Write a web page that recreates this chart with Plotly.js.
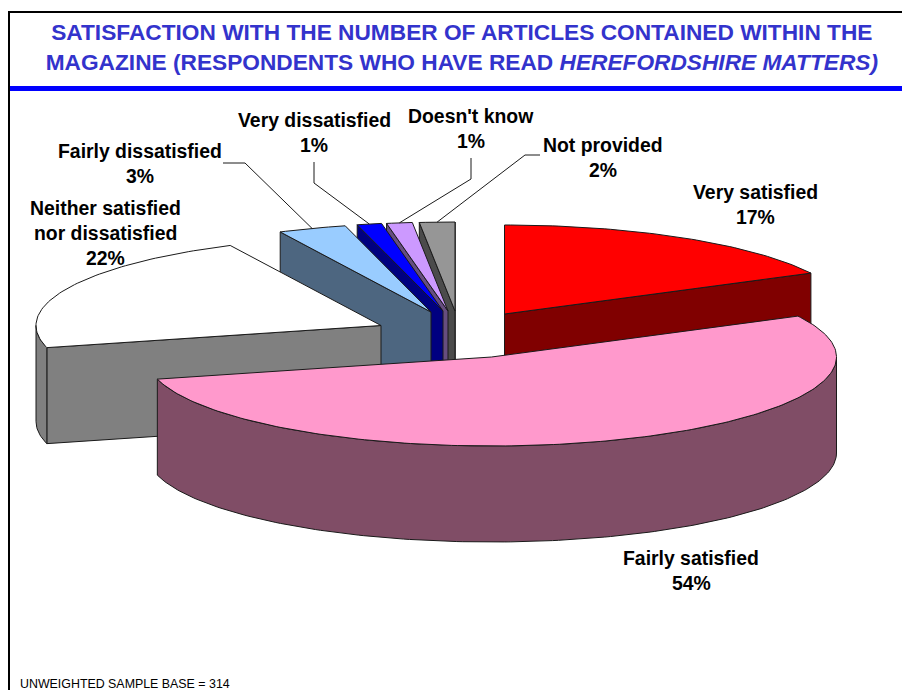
<!DOCTYPE html>
<html>
<head>
<meta charset="utf-8">
<script src="https://cdn.plot.ly/plotly-3.0.1.min.js"></script>
<style>html,body{margin:0;padding:0;background:#fff;overflow:hidden}#chart{width:902px;height:690px}</style>
</head>
<body>
<div id="chart"></div>
<script>
// Data, clockwise from 12 o'clock (unrounded shares)
var categories = ["Very satisfied", "Fairly satisfied", "Neither satisfied nor dissatisfied", "Fairly dissatisfied", "Very dissatisfied", "Doesn't know", "Not provided"];
var shares = [17.4, 53.6, 21.8, 3.2, 1.15, 1.2, 1.65];
var labelLines = [["Very satisfied"], ["Fairly satisfied"], ["Neither satisfied", "nor dissatisfied"], ["Fairly dissatisfied"], ["Very dissatisfied"], ["Doesn't know"], ["Not provided"]];

// Styling and geometry
var topColors = ["#ff0000", "#ff99cc", "#ffffff", "#99ccff", "#0000ff", "#cc99ff", "#969696"];
var sideColors = ["#800000", "#804d66", "#808080", "#4d6680", "#000080", "#664d80", "#4b4b4b"];
var apexX = [504.5, 491.5, 381, 431, 443, 448, 455];
var apexY = [314, 357, 325.5, 312, 311, 311, 311];
var labelX = [755, 691, 105, 140, 314, 471, 603];
var labelY = [192, 558, 208, 151, 120, 116, 145];
var lineGap = 25;
var RX = 345, RY = 89, DEPTH = 96;
var paintOrder = [0, 6, 5, 4, 3, 2, 1];
var leaderElbows = {3: [[223, 163], [245, 163]], 4: [[314, 162], [314, 183]], 5: [[471, 158], [471, 179]], 6: [[540, 155], [525, 155]]};

var rad = Math.PI / 180;
var angles = [], run = 0;
shares.forEach(function (s) { var a = run * 3.6; run += s; angles.push([a, run * 3.6]); });

function rim(i, deg, drop) {
  return [apexX[i] + RX * Math.sin(deg * rad), apexY[i] - RY * Math.cos(deg * rad) + (drop || 0)];
}
function arc(i, from, to, drop) {
  var pts = [], n = Math.max(2, Math.ceil(Math.abs(to - from)));
  for (var k = 0; k <= n; k++) pts.push(rim(i, from + (to - from) * k / n, drop));
  return pts;
}
var traces = [];
function poly(pts, fill, name) {
  var closed = pts.concat([pts[0]]);
  traces.push({
    type: "scatter", mode: "lines", fill: "toself", fillcolor: fill, name: name,
    x: closed.map(function (p) { return p[0]; }),
    y: closed.map(function (p) { return p[1]; }),
    line: {color: "#1a1a1a", width: 1}, hoverinfo: "skip", showlegend: false
  });
}
function radialFace(i, deg) {
  var a = [apexX[i], apexY[i]], r = rim(i, deg);
  poly([a, r, [r[0], r[1] + DEPTH], [a[0], a[1] + DEPTH]], sideColors[i], categories[i] + " side");
}
paintOrder.forEach(function (i) {
  var s = angles[i][0], e = angles[i][1];
  if (Math.sin(e * rad) > 0) radialFace(i, e);
  if (Math.sin(s * rad) < 0) radialFace(i, s);
  var f = Math.max(s, 90), t = Math.min(e, 270);
  if (t > f) poly(arc(i, f, t, 0).concat(arc(i, t, f, DEPTH)), sideColors[i], categories[i] + " rim");
  poly([[apexX[i], apexY[i]]].concat(arc(i, s, e, 0)), topColors[i], categories[i]);
});

// Leader lines run from a label's elbow to the rim of its slice
Object.keys(leaderElbows).forEach(function (k) {
  var i = +k, mid = (angles[i][0] + angles[i][1]) / 2;
  var pts = leaderElbows[k].concat([rim(i, mid)]);
  traces.push({
    type: "scatter", mode: "lines", x: pts.map(function (p) { return p[0]; }), y: pts.map(function (p) { return p[1]; }),
    line: {color: "#1a1a1a", width: 1}, hoverinfo: "skip", showlegend: false
  });
});

var annotations = [];
function text(x, y, str, size, bold, anchor) {
  annotations.push({
    xref: "x", yref: "y", x: x, y: y, text: bold ? "<b>" + str + "</b>" : str, showarrow: false,
    xanchor: anchor || "center", yanchor: "middle",
    font: {family: "Liberation Sans, Arial, sans-serif", size: size, color: "#000000"}
  });
}
categories.forEach(function (c, i) {
  var lines = labelLines[i].concat([Math.round(shares[i]) + "%"]);
  lines.forEach(function (l, j) { text(labelX[i], labelY[i] + j * lineGap, l, 19.4, true); });
});
text(18, 684, "UNWEIGHTED SAMPLE BASE = 314", 12.4, false, "left");

var layout = {
  width: 902, height: 690, margin: {l: 0, r: 0, t: 0, b: 0},
  paper_bgcolor: "#ffffff", plot_bgcolor: "#ffffff", showlegend: false,
  title: {
    text: "<b>SATISFACTION WITH THE NUMBER OF ARTICLES CONTAINED WITHIN THE<br>MAGAZINE (RESPONDENTS WHO HAVE READ <i>HEREFORDSHIRE MATTERS)</i></b>",
    font: {family: "Liberation Sans, Arial, sans-serif", size: 22.7, color: "#3333cc"},
    x: 0.512, xanchor: "center", xref: "paper", y: 0.942, yanchor: "middle", yref: "paper"
  },
  xaxis: {range: [0, 902], visible: false, fixedrange: true},
  yaxis: {range: [690, 0], visible: false, fixedrange: true},
  annotations: annotations,
  shapes: [
    {type: "line", xref: "x", yref: "y", x0: 9, x1: 902, y0: 12, y1: 12, line: {color: "#000000", width: 2}},
    {type: "line", xref: "x", yref: "y", x0: 9, x1: 9, y0: 11, y1: 690, line: {color: "#000000", width: 2}},
    {type: "line", xref: "x", yref: "y", x0: 10, x1: 902, y0: 88.5, y1: 88.5, line: {color: "#0000ff", width: 5}}
  ]
};
Plotly.newPlot("chart", traces, layout, {displayModeBar: false, staticPlot: true});
</script>
</body>
</html>
